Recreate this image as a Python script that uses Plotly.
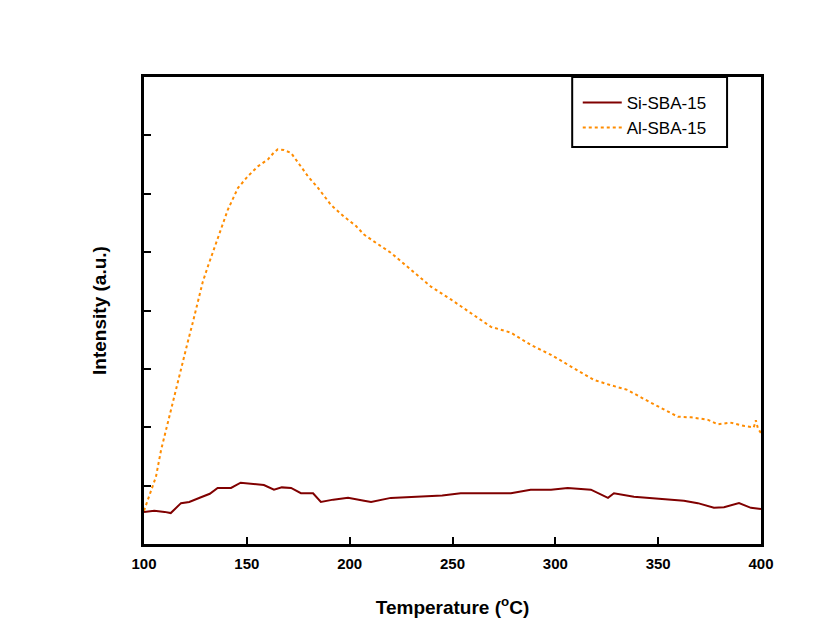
import plotly.graph_objects as go

# Si-SBA-15 (dark red solid)
si_temp = [100, 105, 110, 113, 118, 122, 127.7, 132, 135.8, 142.3, 147, 152, 158.3, 163.2, 167,
           171.5, 176.3, 182.2, 186, 192, 199.2, 207, 210.4, 220, 234.7, 245, 254, 263.8, 278.4,
           288, 297.9, 306, 317.3, 325.6, 328.5, 338.2, 346.5, 355, 362.5, 369.3, 377.1, 382,
           389.3, 395.1, 400]
si_int = [0.55, 0.57, 0.55, 0.53, 0.70, 0.72, 0.80, 0.86, 0.96, 0.96, 1.05, 1.03, 1.01, 0.93, 0.97,
          0.96, 0.87, 0.87, 0.72, 0.76, 0.79, 0.74, 0.72, 0.79, 0.82, 0.83, 0.87, 0.87, 0.87,
          0.93, 0.93, 0.96, 0.93, 0.79, 0.87, 0.81, 0.79, 0.77, 0.74, 0.70, 0.62, 0.63,
          0.70, 0.62, 0.60]

# Al-SBA-15 (orange dotted)
al_temp = [100, 100.5, 103.4, 105.8, 108.3, 110.7, 113.1, 115.6, 118, 121.2, 123.7, 126.1, 128.5,
           131, 134.2, 137.4, 140.8, 145.7, 150.5, 155.4, 160.3, 163, 165, 168, 171.5, 174.9,
           179.7, 184.6, 190.9, 197.2, 203, 207, 210.4, 214, 220, 229.8, 239.5, 249.2, 259,
           268.7, 278.4, 288.1, 297.9, 307.6, 318.8, 327, 335, 346.5, 353, 359.6, 366, 374,
           379, 385, 392, 396.5, 397.5, 398.5, 400]
al_int = [0.57, 0.62, 0.93, 1.15, 1.61, 1.96, 2.30, 2.64, 2.98, 3.45, 3.79, 4.13, 4.48,
          4.75, 5.09, 5.39, 5.73, 6.10, 6.30, 6.47, 6.59, 6.70, 6.76, 6.75, 6.70, 6.54,
          6.30, 6.10, 5.81, 5.61, 5.45, 5.30, 5.21, 5.13, 4.99, 4.70, 4.41, 4.19, 3.96,
          3.72, 3.62, 3.41, 3.24, 3.04, 2.81, 2.72, 2.64, 2.42, 2.30, 2.18, 2.17, 2.13,
          2.05, 2.08, 2.02, 2.00, 2.12, 1.98, 1.90]

x_ticks = [100, 150, 200, 250, 300, 350, 400]
y_ticks = [1, 2, 3, 4, 5, 6, 7]

fig = go.Figure()
fig.add_trace(go.Scatter(x=si_temp, y=si_int, mode="lines", name="Si-SBA-15",
                         line=dict(color="#800000", width=2)))
fig.add_trace(go.Scatter(x=al_temp, y=al_int, mode="lines", name="Al-SBA-15",
                         line=dict(color="#FF8C00", width=2, dash="dot")))

font_family = "Liberation Sans, Arial, sans-serif"

# legend frame
fig.add_shape(type="rect", xref="paper", yref="paper",
              x0=0.694, x1=0.945, y0=0.850, y1=1.0,
              line=dict(color="black", width=2), fillcolor="rgba(0,0,0,0)")

fig.update_layout(
    width=837, height=640,
    margin=dict(l=136, r=84, t=69, b=104),
    paper_bgcolor="white", plot_bgcolor="white",
    font=dict(family=font_family, color="black"),
    showlegend=True,
    legend=dict(x=0.703, y=0.983, xanchor="left", yanchor="top",
                borderwidth=0, bgcolor="rgba(0,0,0,0)", itemwidth=39,
                font=dict(size=17, family=font_family), tracegroupgap=0),
    xaxis=dict(range=[100, 400], tickvals=x_ticks, ticks="inside", ticklen=7, tickwidth=2,
               tickcolor="black", showline=True, linecolor="black", linewidth=2.5, mirror=True,
               showgrid=False, zeroline=False, ticklabelstandoff=4,
               tickfont=dict(size=15, family=font_family, weight="bold"),
               title=dict(text="<b>Temperature (<sup>o</sup>C)</b>", font=dict(size=19), standoff=30)),
    yaxis=dict(range=[0, 8], tickvals=y_ticks, ticks="inside", ticklen=7, tickwidth=2,
               tickcolor="black", showticklabels=False, showline=True, linecolor="black",
               linewidth=2.5, mirror=True, showgrid=False, zeroline=False,
               title=dict(text="<b>Intensity (a.u.)</b>", font=dict(size=19), standoff=30)),
)

fig.write_html("out.html")
